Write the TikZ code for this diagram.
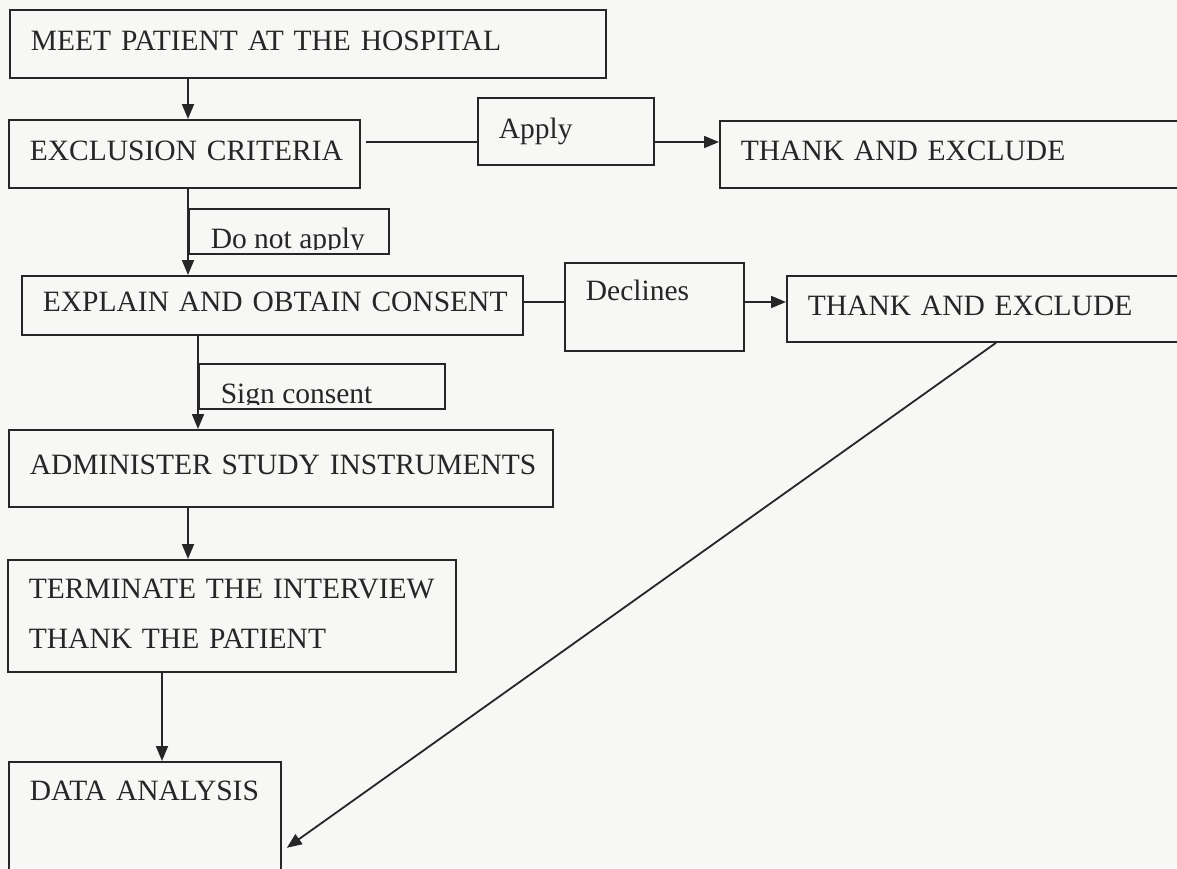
\documentclass[tikz,border=0pt]{standalone}
\usepackage{fontspec}
\setmainfont{Liberation Serif}
\usetikzlibrary{arrows.meta}
\definecolor{ink}{HTML}{262626}
\definecolor{paper}{HTML}{F7F7F5}
\newcommand{\stagefont}{\fontsize{29.5pt}{50pt}\selectfont}
\tikzset{
  stage/.style={draw=ink, line width=1.8pt, anchor=north west, inner xsep=10pt, inner ysep=0pt,
    align=left, text=ink, font=\stagefont, text depth=7pt,
    execute at begin node={\leftskip=11pt}},
  cutlabel/.style 2 args={draw=ink, line width=1.8pt, anchor=north west, inner sep=0pt,
    minimum width=#1, minimum height=45pt,
    path picture={
      \clip (path picture bounding box.north west) rectangle ([yshift=4.5pt]path picture bounding box.south east);
      \node[anchor=base west, inner sep=0pt, minimum width=0pt, minimum height=0pt, text=ink, font=\stagefont]
        at ([shift={(21pt,5pt)}]path picture bounding box.south west) {#2};}},
  link/.style={draw=ink, line width=1.8pt},
  flow/.style={link, -{Triangle[length=15pt,width=12pt]}}
}
\begin{document}
\begin{tikzpicture}[x=1pt, y=-1pt]
    \fill[paper] (0,0) rectangle (1177,868);
    \useasboundingbox (0,0) rectangle (1177,868);
    % main column
    \node[stage, text width=576pt, minimum height=68pt] (meet) at (9,9) {MEET PATIENT AT THE HOSPITAL};
    \node[stage, text width=331pt, minimum height=68pt] (excl) at (8,119) {EXCLUSION CRITERIA};
    \node[stage, text width=481pt, minimum height=59pt] (explain) at (21,275) {EXPLAIN AND OBTAIN CONSENT};
    \node[stage, text width=524pt, minimum height=77pt] (admin) at (8,429) {ADMINISTER STUDY INSTRUMENTS};
    \node[stage, text width=428pt, text height=39pt, text depth=73pt] (term) at (7,559) {TERMINATE THE INTERVIEW\\THANK THE PATIENT};
    \node[stage, text width=252pt, text height=39pt, text depth=91pt] (data) at (8,761) {DATA ANALYSIS};
    % branch labels and exits
    \node[stage, text width=156pt, minimum height=67pt] (apply) at (477,97) {Apply};
    \node[stage, text width=460pt, minimum height=67pt] (thankA) at (719,120) {THANK AND EXCLUDE};
    \node[stage, text width=159pt, text height=38pt, text depth=50pt] (decl) at (564,262) {Declines};
    \node[stage, text width=393pt, minimum height=66pt] (thankB) at (786,275) {THANK AND EXCLUDE};
    \node[cutlabel={200pt}{Do not apply}] (skip) at (188,208) {};
    \node[cutlabel={246pt}{Sign consent}] (sign) at (198,363) {};
    \coordinate (rowA) at (0,142);
    \coordinate (rowB) at (0,302);
    \coordinate (laneD) at (162,0);
    % connectors
    \draw[flow] (meet.south -| skip.west) -- (excl.north -| skip.west);
    \draw[flow] (excl.south -| skip.west) -- (explain.north -| skip.west);
    \draw[flow] (explain.south -| sign.west) -- (admin.north -| sign.west);
    \draw[flow] (admin.south -| skip.west) -- (term.north -| skip.west);
    \draw[flow] (term.south -| laneD) -- (data.north -| laneD);
    \draw[link] ([xshift=5pt]excl.east |- rowA) -- (apply.west |- rowA);
    \draw[flow] (apply.east |- rowA) -- (thankA.west |- rowA);
    \draw[link] (explain.east |- rowB) -- (decl.west |- rowB);
    \draw[flow] (decl.east |- rowB) -- (thankB.west |- rowB);
    \draw[flow] ([xshift=210pt]thankB.south west) -- ([xshift=5pt,yshift=45pt]data.south east);
\end{tikzpicture}
\end{document}
